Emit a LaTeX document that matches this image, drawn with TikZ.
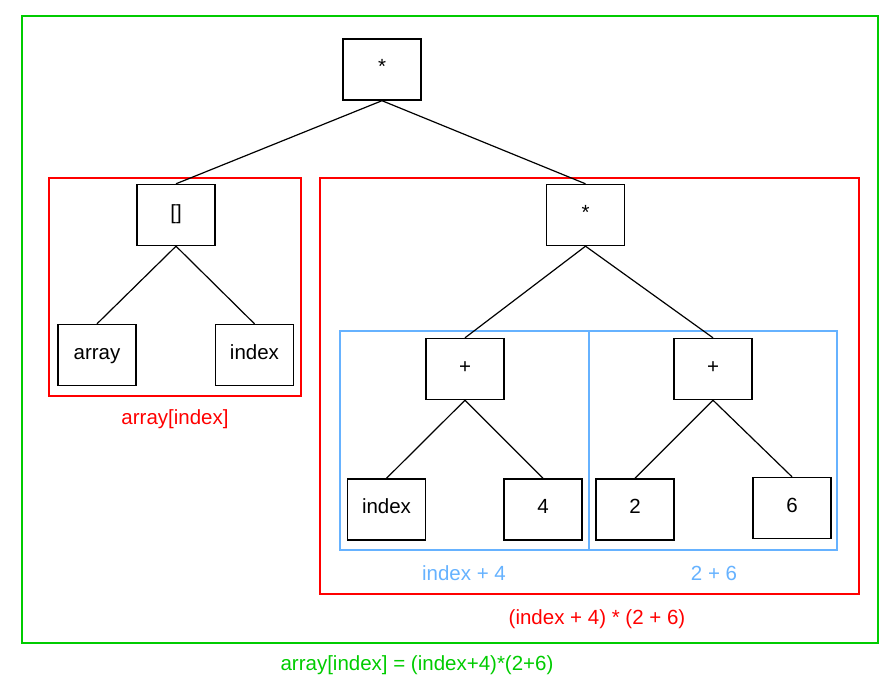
\documentclass[tikz,border=0pt]{standalone}
\usepackage{fontspec}
\setmainfont{Liberation Sans}
\usepackage{tikz}
\usetikzlibrary{positioning}
\definecolor{framegreen}{HTML}{00CC00}
\definecolor{framered}{HTML}{FF0000}
\definecolor{frameblue}{HTML}{66B2FF}
\tikzstyle{opbox} = [rectangle, minimum width=78pt, minimum height=61pt, text centered, text height=1.8ex, text depth=0.2ex, draw=black, line width=1.4pt, font=\fontsize{20.5}{24}\selectfont]
\tikzstyle{edge} = [line width=1.2pt, black]
\tikzset{
 gframe/.style
  = {draw=framegreen, line width=1.4pt},
 rframe/.style
  = {draw=framered, line width=1.4pt},
 bframe/.style
  = {draw=frameblue, line width=1.4pt},
 glabel/.style
  = {text=framegreen, font=\fontsize{20.5}{24}\selectfont},
 rlabel/.style
  = {text=framered, font=\fontsize{20.5}{24}\selectfont},
 blabel/.style
  = {text=frameblue, font=\fontsize{20.5}{24}\selectfont},
}

\begin{document}
\begin{tikzpicture}[x=1pt, y=-1pt]
\useasboundingbox (0,0) rectangle (896,692);
% frames
\draw [gframe] (22,16) rectangle (878,643);
\draw [rframe] (49,178) rectangle (301,396);
\draw [rframe] (320,178) rectangle (859,594);
\draw [bframe] (340,331) rectangle (589,550);
\draw [bframe] (589,331) rectangle (837,550);
% tree nodes
\node (root) [opbox] at (382,69.5) {*};
\node (subscr) [opbox] at (176,215) {[]};
\node (arr) [opbox] at (97,355) {array};
\node (idxa) [opbox] at (254.5,355) {index};
\node (mul) [opbox] at (585.5,215) {*};
\node (plusa) [opbox] at (465,369) {+};
\node (plusb) [opbox] at (713,369) {+};
\node (idxb) [opbox] at (386.5,509.5) {index};
\node (four) [opbox] at (543,509.5) {4};
\node (two) [opbox] at (635,509.5) {2};
\node (six) [opbox] at (792,508) {6};
% frame labels
\node (lblsubscr) [rlabel] at (175,419) {array[index]};
\node (lblplusa) [blabel] at (464,573) {index + 4};
\node (lblplusb) [blabel] at (714,573) {2 + 6};
\node (lblmul) [rlabel] at (597,619) {(index + 4) * (2 + 6)};
\node (lblall) [glabel] at (417,665) {array[index] = (index+4)*(2+6)};
% edges
\draw [edge] (root.south) -- (subscr.north);
\draw [edge] (root.south) -- (mul.north);
\draw [edge] (subscr.south) -- (arr.north);
\draw [edge] (subscr.south) -- (idxa.north);
\draw [edge] (mul.south) -- (plusa.north);
\draw [edge] (mul.south) -- (plusb.north);
\draw [edge] (plusa.south) -- (idxb.north);
\draw [edge] (plusa.south) -- (four.north);
\draw [edge] (plusb.south) -- (two.north);
\draw [edge] (plusb.south) -- (six.north);
\end{tikzpicture}
\end{document}
